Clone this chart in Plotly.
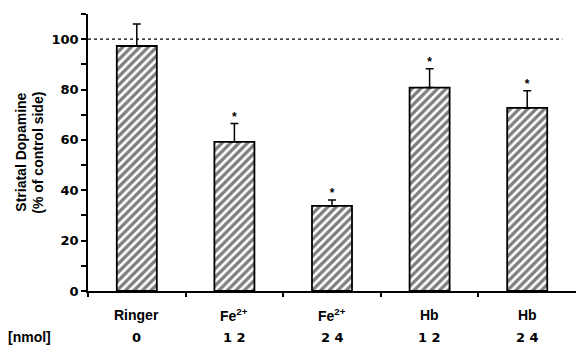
import plotly.graph_objects as go

# Striatal dopamine after intrastriatal infusion
treatments = ["Ringer", "Fe<sup>2+</sup>", "Fe<sup>2+</sup>", "Hb", "Hb"]
doses = ["0", "1 2", "2 4", "1 2", "2 4"]
dopamine = [97.3, 59.2, 33.8, 80.8, 72.7]
sem = [8.7, 7.3, 2.3, 7.5, 6.8]
significant = [False, True, True, True, True]

xpos = list(range(len(treatments)))
font = dict(family="Liberation Sans, Arial, sans-serif", color="black")
numfont = dict(family="DejaVu Sans, sans-serif", color="black")

fig = go.Figure()
fig.add_trace(go.Bar(
    x=xpos, y=dopamine, width=0.41,
    marker=dict(
        color="white",
        line=dict(color="black", width=1.8),
        pattern=dict(shape="/", fgcolor="black", bgcolor="white",
                     size=6, solidity=0.55, fillmode="overlay"),
    ),
    error_y=dict(type="data", symmetric=False, array=sem,
                 arrayminus=[0] * len(sem), color="black",
                 thickness=1.5, width=4),
    showlegend=False,
))

# significance markers above the error bars
sx = [x for x, s in zip(xpos, significant) if s]
sy = [d + e for d, e, s in zip(dopamine, sem, significant) if s]
fig.add_trace(go.Scatter(
    x=sx, y=sy, mode="text", text=["<b>*</b>"] * len(sx),
    textposition="top center",
    textfont=dict(size=12, family=font["family"], color="black"),
    showlegend=False,
))

# control level
fig.add_shape(type="line", xref="x", yref="y", x0=-0.5, x1=4.36, y0=100, y1=100,
              line=dict(color="black", width=1.2, dash="dot"))

# category labels: treatment and dose rows
for x, t in zip(xpos, treatments):
    fig.add_annotation(x=x, y=0, xref="x", yref="paper", text=f"<b>{t}</b>",
                       showarrow=False, yshift=-24, yanchor="middle",
                       xanchor="center", font=dict(size=14, **font))
for x, d in zip(xpos, doses):
    fig.add_annotation(x=x, y=0, xref="x", yref="paper", text=f"<b>{d}</b>",
                       showarrow=False, yshift=-46, yanchor="middle",
                       xanchor="center", font=dict(size=13, **numfont))
fig.add_annotation(x=-0.119, y=0, xref="paper", yref="paper", text="<b>[nmol]</b>",
                   showarrow=False, yshift=-46, yanchor="middle", xanchor="center",
                   font=dict(size=14, **font))

# y-axis title, two rotated lines
for xp, line in [(-0.139, "Striatal Dopamine"), (-0.104, "(% of control side)")]:
    fig.add_annotation(x=xp, y=0.5, xref="paper", yref="paper", textangle=-90,
                       text=f"<b>{line}</b>", showarrow=False,
                       xanchor="center", yanchor="middle",
                       font=dict(size=14, **font))

yticks = list(range(0, 111, 10))
ylabels = [f"<b>{v}</b>" if v % 20 == 0 and v <= 100 else " " for v in yticks]

fig.update_layout(
    width=576, height=348,
    margin=dict(l=88, r=0, t=14, b=57),
    paper_bgcolor="white", plot_bgcolor="white",
    font=dict(size=12, **font),
    xaxis=dict(range=[-0.5, 4.5], showgrid=False, zeroline=False,
               showline=True, linecolor="black", linewidth=1.5,
               tickvals=[-0.5, 0.5, 1.5, 2.5, 3.5],
               ticktext=[" "] * 5, ticks="outside", ticklen=4,
               tickwidth=1.5, tickcolor="black"),
    yaxis=dict(range=[0, 110], showgrid=False, zeroline=False,
               showline=True, linecolor="black", linewidth=1.5,
               tickvals=yticks, ticktext=ylabels, ticks="outside",
               ticklen=5, tickwidth=1.5, tickcolor="black",
               tickfont=dict(size=13, **numfont)),
)

fig.write_html("out.html")
